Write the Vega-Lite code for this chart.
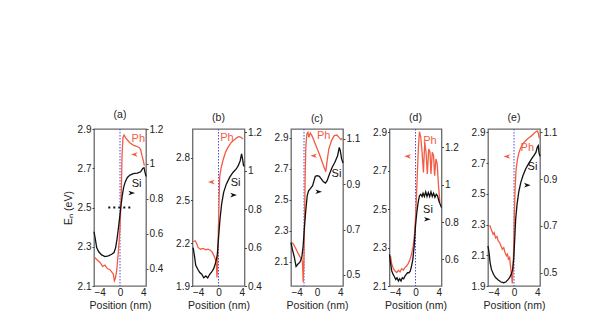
{
"$schema": "https://vega.github.io/schema/vega-lite/v6.json",
"padding": {"left": 62, "top": 108, "right": 0, "bottom": 0},
"spacing": 10.5,
"config": {
 "font": "Liberation Sans",
 "view": {"stroke": "#6a6a6a", "strokeWidth": 1.3},
 "axis": {"labelFontSize": 10, "titleFontSize": 10.5, "titleFontWeight": "normal", "grid": false, "domain": false, "tickSize": 2, "tickColor": "#444", "labelColor": "#222", "titleColor": "#222", "labelPadding": 1, "format": "~g"},
 "axisX": {"labelPadding": 1, "tickSize": 0, "titlePadding": 3},
 "title": {"fontSize": 10.5, "fontWeight": "normal", "offset": 0, "baseline": "alphabetic", "color": "#222"}
},
"datasets": {
 "vlines": [{"p":"a","x":0},{"p":"b","x":0},{"p":"c","x":-2},{"p":"d","x":0},{"p":"e","x":0}],
 "hdots": [{"p":"a","x":-1.8,"x2":2.05,"v":2.5}],
 "labels": [
  {"p":"a","s":"ph","x":2.82,"v":2.85,"t":"Ph"},{"p":"a","s":"si","x":2.56,"v":0.884,"t":"Si"},
  {"p":"b","s":"ph","x":1.3,"v":2.939,"t":"Ph"},{"p":"b","s":"si","x":2.63,"v":0.934,"t":"Si"},
  {"p":"c","s":"ph","x":1.04,"v":2.911,"t":"Ph"},{"p":"c","s":"si","x":3.0,"v":0.945,"t":"Si"},
  {"p":"d","s":"ph","x":2.23,"v":2.857,"t":"Ph"},{"p":"d","s":"si","x":1.92,"v":0.865,"t":"Si"},
  {"p":"e","s":"ph","x":2.05,"v":2.796,"t":"Ph"},{"p":"e","s":"si","x":2.84,"v":0.95,"t":"Si"}
 ],
 "arrows": [
  {"p":"a","s":"ph","x":2.2,"v":2.77},{"p":"a","s":"si","x":1.8,"v":0.833},
  {"p":"b","s":"ph","x":-1.1,"v":2.628},{"p":"b","s":"si","x":2.32,"v":0.873},
  {"p":"c","s":"ph","x":-0.52,"v":2.785},{"p":"c","s":"si","x":0.26,"v":0.867},
  {"p":"d","s":"ph","x":-1.22,"v":2.775},{"p":"d","s":"si","x":1.82,"v":0.815},
  {"p":"e","s":"ph","x":-1.1,"v":2.743},{"p":"e","s":"si","x":2.05,"v":0.874}
 ],
 "a_ph": [{"x":-3.9,"v":2.245},{"x":-3.08,"v":2.22},{"x":-2.67,"v":2.2},{"x":-2.31,"v":2.206},{"x":-1.95,"v":2.189},{"x":-1.54,"v":2.183},{"x":-1.23,"v":2.169},{"x":-1.03,"v":2.161},{"x":-0.87,"v":2.126},{"x":-0.72,"v":2.138},{"x":-0.51,"v":2.178},{"x":-0.26,"v":2.271},{"x":0,"v":2.39},{"x":0.21,"v":2.594},{"x":0.31,"v":2.764},{"x":0.46,"v":2.857},{"x":0.62,"v":2.869},{"x":0.82,"v":2.857},{"x":1.13,"v":2.844},{"x":1.54,"v":2.829},{"x":2.05,"v":2.818},{"x":2.56,"v":2.812},{"x":2.97,"v":2.805},{"x":3.18,"v":2.795},{"x":3.38,"v":2.764},{"x":3.59,"v":2.739},{"x":3.74,"v":2.713}],
 "a_si": [{"x":-4.0,"v":0.611},{"x":-3.79,"v":0.568},{"x":-3.59,"v":0.52},{"x":-3.28,"v":0.496},{"x":-2.82,"v":0.478},{"x":-2.31,"v":0.469},{"x":-1.79,"v":0.473},{"x":-1.28,"v":0.482},{"x":-0.92,"v":0.492},{"x":-0.67,"v":0.52},{"x":-0.46,"v":0.568},{"x":-0.26,"v":0.626},{"x":-0.05,"v":0.693},{"x":0.15,"v":0.76},{"x":0.36,"v":0.821},{"x":0.56,"v":0.865},{"x":0.82,"v":0.898},{"x":1.13,"v":0.922},{"x":1.54,"v":0.936},{"x":2.05,"v":0.944},{"x":2.67,"v":0.947},{"x":3.18,"v":0.955},{"x":3.49,"v":0.974},{"x":3.69,"v":0.978},{"x":3.85,"v":0.951},{"x":4.0,"v":0.928}],
 "b_ph": [{"x":-3.9,"v":2.21},{"x":-3.6,"v":2.217},{"x":-3.39,"v":2.201},{"x":-3.14,"v":2.17},{"x":-2.78,"v":2.158},{"x":-2.37,"v":2.163},{"x":-1.96,"v":2.154},{"x":-1.61,"v":2.158},{"x":-1.25,"v":2.151},{"x":-0.94,"v":2.135},{"x":-0.69,"v":2.111},{"x":-0.48,"v":2.088},{"x":-0.33,"v":2.046},{"x":-0.23,"v":1.959},{"x":-0.13,"v":2.064},{"x":-0.03,"v":2.276},{"x":0.08,"v":2.487},{"x":0.18,"v":2.664},{"x":0.38,"v":2.722},{"x":0.69,"v":2.781},{"x":1.1,"v":2.84},{"x":1.5,"v":2.875},{"x":1.96,"v":2.906},{"x":2.47,"v":2.927},{"x":2.93,"v":2.943},{"x":3.24,"v":2.946},{"x":3.55,"v":2.939},{"x":3.75,"v":2.929}],
 "b_si": [{"x":-3.9,"v":0.6},{"x":-3.7,"v":0.557},{"x":-3.5,"v":0.508},{"x":-3.19,"v":0.487},{"x":-2.88,"v":0.47},{"x":-2.58,"v":0.461},{"x":-2.27,"v":0.443},{"x":-1.96,"v":0.452},{"x":-1.66,"v":0.442},{"x":-1.35,"v":0.461},{"x":-1.05,"v":0.473},{"x":-0.74,"v":0.49},{"x":-0.43,"v":0.522},{"x":-0.18,"v":0.565},{"x":0.03,"v":0.661},{"x":0.23,"v":0.748},{"x":0.48,"v":0.826},{"x":0.79,"v":0.887},{"x":1.2,"v":0.93},{"x":1.71,"v":0.965},{"x":2.22,"v":0.991},{"x":2.73,"v":1.009},{"x":3.04,"v":1.026},{"x":3.34,"v":1.052},{"x":3.55,"v":1.087},{"x":3.7,"v":1.061},{"x":3.85,"v":1.026},{"x":4.0,"v":1.023}],
 "c_ph": [{"x":-3.79,"v":2.223},{"x":-3.48,"v":2.202},{"x":-3.17,"v":2.176},{"x":-2.86,"v":2.148},{"x":-2.55,"v":2.126},{"x":-2.34,"v":2.119},{"x":-2.23,"v":2.093},{"x":-2.13,"v":1.968},{"x":-2.03,"v":2.072},{"x":-1.92,"v":2.331},{"x":-1.82,"v":2.656},{"x":-1.71,"v":2.85},{"x":-1.56,"v":2.926},{"x":-1.4,"v":2.937},{"x":-1.25,"v":2.904},{"x":-1.04,"v":2.932},{"x":-0.78,"v":2.915},{"x":-0.47,"v":2.883},{"x":-0.05,"v":2.839},{"x":0.36,"v":2.796},{"x":0.78,"v":2.746},{"x":1.09,"v":2.71},{"x":1.35,"v":2.682},{"x":1.56,"v":2.753},{"x":1.82,"v":2.829},{"x":2.23,"v":2.883},{"x":2.65,"v":2.915},{"x":3.06,"v":2.919},{"x":3.38,"v":2.904},{"x":3.69,"v":2.889},{"x":3.9,"v":2.898}],
 "c_si": [{"x":-4.0,"v":0.643},{"x":-3.79,"v":0.613},{"x":-3.48,"v":0.577},{"x":-3.22,"v":0.537},{"x":-2.96,"v":0.547},{"x":-2.65,"v":0.555},{"x":-2.34,"v":0.577},{"x":-2.13,"v":0.628},{"x":-1.92,"v":0.717},{"x":-1.71,"v":0.79},{"x":-1.51,"v":0.849},{"x":-1.3,"v":0.871},{"x":-0.99,"v":0.882},{"x":-0.68,"v":0.894},{"x":-0.26,"v":0.935},{"x":0.05,"v":0.938},{"x":0.36,"v":0.935},{"x":0.68,"v":0.923},{"x":0.99,"v":0.911},{"x":1.3,"v":0.905},{"x":1.56,"v":0.916},{"x":1.92,"v":0.945},{"x":2.34,"v":0.975},{"x":2.75,"v":0.997},{"x":3.17,"v":1.026},{"x":3.43,"v":1.063},{"x":3.58,"v":1.048},{"x":3.79,"v":1.012},{"x":4.0,"v":0.994}],
 "d_ph": [{"x":-3.85,"v":2.257},{"x":-3.65,"v":2.213},{"x":-3.39,"v":2.19},{"x":-3.14,"v":2.178},{"x":-2.89,"v":2.17},{"x":-2.63,"v":2.182},{"x":-2.38,"v":2.173},{"x":-2.13,"v":2.19},{"x":-1.87,"v":2.183},{"x":-1.62,"v":2.196},{"x":-1.37,"v":2.204},{"x":-1.11,"v":2.218},{"x":-0.86,"v":2.236},{"x":-0.61,"v":2.265},{"x":-0.35,"v":2.309},{"x":-0.15,"v":2.37},{"x":0.05,"v":2.483},{"x":0.25,"v":2.657},{"x":0.46,"v":2.83},{"x":0.61,"v":2.903},{"x":0.81,"v":2.874},{"x":1.01,"v":2.796},{"x":1.22,"v":2.691},{"x":1.42,"v":2.848},{"x":1.62,"v":2.796},{"x":1.82,"v":2.683},{"x":2.03,"v":2.813},{"x":2.23,"v":2.796},{"x":2.38,"v":2.683},{"x":2.58,"v":2.796},{"x":2.78,"v":2.778},{"x":2.94,"v":2.674},{"x":3.14,"v":2.761},{"x":3.34,"v":2.735},{"x":3.54,"v":2.622},{"x":3.75,"v":2.535}],
 "d_si": [{"x":-4.0,"v":0.627},{"x":-3.85,"v":0.582},{"x":-3.65,"v":0.537},{"x":-3.44,"v":0.519},{"x":-3.24,"v":0.507},{"x":-3.04,"v":0.492},{"x":-2.84,"v":0.501},{"x":-2.63,"v":0.484},{"x":-2.43,"v":0.496},{"x":-2.23,"v":0.484},{"x":-2.03,"v":0.501},{"x":-1.82,"v":0.496},{"x":-1.62,"v":0.51},{"x":-1.42,"v":0.519},{"x":-1.22,"v":0.528},{"x":-1.01,"v":0.528},{"x":-0.81,"v":0.537},{"x":-0.61,"v":0.564},{"x":-0.41,"v":0.6},{"x":-0.2,"v":0.672},{"x":0,"v":0.779},{"x":0.2,"v":0.851},{"x":0.41,"v":0.905},{"x":0.61,"v":0.941},{"x":0.81,"v":0.949},{"x":1.01,"v":0.937},{"x":1.16,"v":0.955},{"x":1.37,"v":0.937},{"x":1.57,"v":0.962},{"x":1.77,"v":0.937},{"x":1.97,"v":0.958},{"x":2.18,"v":0.937},{"x":2.38,"v":0.962},{"x":2.58,"v":0.937},{"x":2.78,"v":0.955},{"x":2.99,"v":0.932},{"x":3.19,"v":0.949},{"x":3.39,"v":0.941},{"x":3.59,"v":0.914},{"x":3.8,"v":0.896},{"x":4.0,"v":0.878}],
 "e_ph": [{"x":-3.74,"v":2.296},{"x":-3.47,"v":2.265},{"x":-3.21,"v":2.237},{"x":-3.05,"v":2.248},{"x":-2.84,"v":2.213},{"x":-2.63,"v":2.222},{"x":-2.42,"v":2.193},{"x":-2.21,"v":2.183},{"x":-2.0,"v":2.161},{"x":-1.79,"v":2.139},{"x":-1.58,"v":2.15},{"x":-1.37,"v":2.117},{"x":-1.16,"v":2.096},{"x":-1.0,"v":2.107},{"x":-0.84,"v":2.07},{"x":-0.68,"v":2.091},{"x":-0.53,"v":2.026},{"x":-0.37,"v":1.965},{"x":-0.26,"v":1.917},{"x":-0.16,"v":1.987},{"x":-0.05,"v":2.139},{"x":0.05,"v":2.357},{"x":0.16,"v":2.53},{"x":0.32,"v":2.657},{"x":0.53,"v":2.722},{"x":0.74,"v":2.765},{"x":1.0,"v":2.796},{"x":1.26,"v":2.817},{"x":1.53,"v":2.835},{"x":1.79,"v":2.846},{"x":2.05,"v":2.857},{"x":2.32,"v":2.865},{"x":2.58,"v":2.874},{"x":2.84,"v":2.883},{"x":3.11,"v":2.896},{"x":3.37,"v":2.904},{"x":3.58,"v":2.909},{"x":3.74,"v":2.896},{"x":3.89,"v":2.861}],
 "e_si": [{"x":-4.0,"v":0.614},{"x":-3.84,"v":0.586},{"x":-3.68,"v":0.543},{"x":-3.47,"v":0.514},{"x":-3.16,"v":0.493},{"x":-2.84,"v":0.479},{"x":-2.42,"v":0.469},{"x":-2.0,"v":0.46},{"x":-1.58,"v":0.457},{"x":-1.26,"v":0.46},{"x":-0.95,"v":0.469},{"x":-0.68,"v":0.479},{"x":-0.42,"v":0.493},{"x":-0.21,"v":0.514},{"x":-0.05,"v":0.557},{"x":0.11,"v":0.643},{"x":0.26,"v":0.729},{"x":0.47,"v":0.793},{"x":0.74,"v":0.846},{"x":1.05,"v":0.886},{"x":1.37,"v":0.914},{"x":1.79,"v":0.943},{"x":2.21,"v":0.964},{"x":2.63,"v":0.983},{"x":3.05,"v":1.0},{"x":3.37,"v":1.014},{"x":3.58,"v":1.036},{"x":3.74,"v":1.043},{"x":3.84,"v":1.014},{"x":4.0,"v":0.997}]
},
"hconcat": [
 {
  "title": "(a)", "width": 52, "height": 157,
  "encoding": {"x": {"field": "x", "type": "quantitative", "scale": {"domain": [-4, 4], "nice": false, "zero": false}, "axis": {"values": [-4, 0, 4], "title": "Position (nm)"}}},
  "layer": [
   {"data": {"name": "vlines"}, "transform": [{"filter": "datum.p == 'a'"}], "mark": {"type": "rule", "color": "#4b4bdb", "strokeDash": [1.5, 1.5], "strokeWidth": 1}},
   {"encoding": {"y": {"field": "v", "type": "quantitative", "scale": {"domain": [2.1, 2.9], "nice": false, "zero": false}, "axis": {"values": [2.1, 2.3, 2.5, 2.7, 2.9], "title": "Eₙ (eV)", "titlePadding": 4}}},
    "layer": [
     {"data": {"name": "hdots"}, "transform": [{"filter": "datum.p == 'a'"}], "mark": {"type": "rule", "color": "#111", "strokeDash": [2, 3], "strokeWidth": 1.8}, "encoding": {"x2": {"field": "x2"}}},
     {"data": {"name": "a_ph"}, "mark": {"type": "line", "color": "#f25c44", "strokeWidth": 1.3}},
     {"data": {"name": "labels"}, "transform": [{"filter": "datum.p == 'a' && datum.s == 'ph'"}], "mark": {"type": "text", "color": "#f25c44", "fontSize": 11}, "encoding": {"text": {"field": "t"}}},
     {"data": {"name": "arrows"}, "transform": [{"filter": "datum.p == 'a' && datum.s == 'ph'"}], "mark": {"type": "point", "shape": "M 1 -0.7 L -1 0 L 1 0.7 L 0.45 0 Z", "filled": true, "opacity": 1, "color": "#f25c44", "size": 45}}
    ]},
   {"encoding": {"y": {"field": "v", "type": "quantitative", "scale": {"domain": [0.3, 1.2], "nice": false, "zero": false}, "axis": {"orient": "right", "values": [0.4, 0.6, 0.8, 1, 1.2], "title": null}}},
    "layer": [
     {"data": {"name": "a_si"}, "mark": {"type": "line", "color": "#111", "strokeWidth": 1.3}},
     {"data": {"name": "labels"}, "transform": [{"filter": "datum.p == 'a' && datum.s == 'si'"}], "mark": {"type": "text", "color": "#111", "fontSize": 11}, "encoding": {"text": {"field": "t"}}},
     {"data": {"name": "arrows"}, "transform": [{"filter": "datum.p == 'a' && datum.s == 'si'"}], "mark": {"type": "point", "shape": "M -1 -0.7 L 1 0 L -1 0.7 L -0.45 0 Z", "filled": true, "opacity": 1, "color": "#111", "size": 45}}
    ]}
  ],
  "resolve": {"scale": {"y": "independent"}}
 },
 {
  "title": "(b)", "width": 52, "height": 157,
  "encoding": {"x": {"field": "x", "type": "quantitative", "scale": {"domain": [-4, 4], "nice": false, "zero": false}, "axis": {"values": [-4, 0, 4], "title": "Position (nm)"}}},
  "layer": [
   {"data": {"name": "vlines"}, "transform": [{"filter": "datum.p == 'b'"}], "mark": {"type": "rule", "color": "#4b4bdb", "strokeDash": [1.5, 1.5], "strokeWidth": 1}},
   {"encoding": {"y": {"field": "v", "type": "quantitative", "scale": {"domain": [1.9, 3.0], "nice": false, "zero": false}, "axis": {"values": [1.9, 2.2, 2.5, 2.8], "title": null}}},
    "layer": [
     {"data": {"name": "b_ph"}, "mark": {"type": "line", "color": "#f25c44", "strokeWidth": 1.3}},
     {"data": {"name": "labels"}, "transform": [{"filter": "datum.p == 'b' && datum.s == 'ph'"}], "mark": {"type": "text", "color": "#f25c44", "fontSize": 11}, "encoding": {"text": {"field": "t"}}},
     {"data": {"name": "arrows"}, "transform": [{"filter": "datum.p == 'b' && datum.s == 'ph'"}], "mark": {"type": "point", "shape": "M 1 -0.7 L -1 0 L 1 0.7 L 0.45 0 Z", "filled": true, "opacity": 1, "color": "#f25c44", "size": 45}}
    ]},
   {"encoding": {"y": {"field": "v", "type": "quantitative", "scale": {"domain": [0.4, 1.217], "nice": false, "zero": false}, "axis": {"orient": "right", "values": [0.4, 0.6, 0.8, 1, 1.2], "title": null}}},
    "layer": [
     {"data": {"name": "b_si"}, "mark": {"type": "line", "color": "#111", "strokeWidth": 1.3}},
     {"data": {"name": "labels"}, "transform": [{"filter": "datum.p == 'b' && datum.s == 'si'"}], "mark": {"type": "text", "color": "#111", "fontSize": 11}, "encoding": {"text": {"field": "t"}}},
     {"data": {"name": "arrows"}, "transform": [{"filter": "datum.p == 'b' && datum.s == 'si'"}], "mark": {"type": "point", "shape": "M -1 -0.7 L 1 0 L -1 0.7 L -0.45 0 Z", "filled": true, "opacity": 1, "color": "#111", "size": 45}}
    ]}
  ],
  "resolve": {"scale": {"y": "independent"}}
 },
 {
  "title": "(c)", "width": 52, "height": 157,
  "encoding": {"x": {"field": "x", "type": "quantitative", "scale": {"domain": [-4, 4], "nice": false, "zero": false}, "axis": {"values": [-4, 0, 4], "title": "Position (nm)"}}},
  "layer": [
   {"data": {"name": "vlines"}, "transform": [{"filter": "datum.p == 'c'"}], "mark": {"type": "rule", "color": "#4b4bdb", "strokeDash": [1.5, 1.5], "strokeWidth": 1}},
   {"encoding": {"y": {"field": "v", "type": "quantitative", "scale": {"domain": [1.942, 2.958], "nice": false, "zero": false}, "axis": {"values": [2.1, 2.3, 2.5, 2.7, 2.9], "title": null}}},
    "layer": [
     {"data": {"name": "c_ph"}, "mark": {"type": "line", "color": "#f25c44", "strokeWidth": 1.3}},
     {"data": {"name": "labels"}, "transform": [{"filter": "datum.p == 'c' && datum.s == 'ph'"}], "mark": {"type": "text", "color": "#f25c44", "fontSize": 11}, "encoding": {"text": {"field": "t"}}},
     {"data": {"name": "arrows"}, "transform": [{"filter": "datum.p == 'c' && datum.s == 'ph'"}], "mark": {"type": "point", "shape": "M 1 -0.7 L -1 0 L 1 0.7 L 0.45 0 Z", "filled": true, "opacity": 1, "color": "#f25c44", "size": 45}}
    ]},
   {"encoding": {"y": {"field": "v", "type": "quantitative", "scale": {"domain": [0.451, 1.144], "nice": false, "zero": false}, "axis": {"orient": "right", "values": [0.5, 0.7, 0.9, 1.1], "format": ".1f", "title": null}}},
    "layer": [
     {"data": {"name": "c_si"}, "mark": {"type": "line", "color": "#111", "strokeWidth": 1.3}},
     {"data": {"name": "labels"}, "transform": [{"filter": "datum.p == 'c' && datum.s == 'si'"}], "mark": {"type": "text", "color": "#111", "fontSize": 11}, "encoding": {"text": {"field": "t"}}},
     {"data": {"name": "arrows"}, "transform": [{"filter": "datum.p == 'c' && datum.s == 'si'"}], "mark": {"type": "point", "shape": "M -1 -0.7 L 1 0 L -1 0.7 L -0.45 0 Z", "filled": true, "opacity": 1, "color": "#111", "size": 45}}
    ]}
  ],
  "resolve": {"scale": {"y": "independent"}}
 },
 {
  "title": "(d)", "width": 52, "height": 157,
  "encoding": {"x": {"field": "x", "type": "quantitative", "scale": {"domain": [-4, 4], "nice": false, "zero": false}, "axis": {"values": [-4, 0, 4], "title": "Position (nm)"}}},
  "layer": [
   {"data": {"name": "vlines"}, "transform": [{"filter": "datum.p == 'd'"}], "mark": {"type": "rule", "color": "#4b4bdb", "strokeDash": [1.5, 1.5], "strokeWidth": 1}},
   {"encoding": {"y": {"field": "v", "type": "quantitative", "scale": {"domain": [2.1, 2.917], "nice": false, "zero": false}, "axis": {"values": [2.1, 2.3, 2.5, 2.7, 2.9], "title": null}}},
    "layer": [
     {"data": {"name": "d_ph"}, "mark": {"type": "line", "color": "#f25c44", "strokeWidth": 1.3}},
     {"data": {"name": "labels"}, "transform": [{"filter": "datum.p == 'd' && datum.s == 'ph'"}], "mark": {"type": "text", "color": "#f25c44", "fontSize": 11}, "encoding": {"text": {"field": "t"}}},
     {"data": {"name": "arrows"}, "transform": [{"filter": "datum.p == 'd' && datum.s == 'ph'"}], "mark": {"type": "point", "shape": "M 1 -0.7 L -1 0 L 1 0.7 L 0.45 0 Z", "filled": true, "opacity": 1, "color": "#f25c44", "size": 45}}
    ]},
   {"encoding": {"y": {"field": "v", "type": "quantitative", "scale": {"domain": [0.457, 1.299], "nice": false, "zero": false}, "axis": {"orient": "right", "values": [0.6, 0.8, 1, 1.2], "title": null}}},
    "layer": [
     {"data": {"name": "d_si"}, "mark": {"type": "line", "color": "#111", "strokeWidth": 1.3}},
     {"data": {"name": "labels"}, "transform": [{"filter": "datum.p == 'd' && datum.s == 'si'"}], "mark": {"type": "text", "color": "#111", "fontSize": 11}, "encoding": {"text": {"field": "t"}}},
     {"data": {"name": "arrows"}, "transform": [{"filter": "datum.p == 'd' && datum.s == 'si'"}], "mark": {"type": "point", "shape": "M -1 -0.7 L 1 0 L -1 0.7 L -0.45 0 Z", "filled": true, "opacity": 1, "color": "#111", "size": 45}}
    ]}
  ],
  "resolve": {"scale": {"y": "independent"}}
 },
 {
  "title": "(e)", "width": 52, "height": 157,
  "encoding": {"x": {"field": "x", "type": "quantitative", "scale": {"domain": [-4, 4], "nice": false, "zero": false}, "axis": {"values": [-4, 0, 4], "title": "Position (nm)"}}},
  "layer": [
   {"data": {"name": "vlines"}, "transform": [{"filter": "datum.p == 'e'"}], "mark": {"type": "rule", "color": "#4b4bdb", "strokeDash": [1.5, 1.5], "strokeWidth": 1}},
   {"encoding": {"y": {"field": "v", "type": "quantitative", "scale": {"domain": [1.9, 2.922], "nice": false, "zero": false}, "axis": {"values": [1.9, 2.1, 2.3, 2.5, 2.7, 2.9], "title": null}}},
    "layer": [
     {"data": {"name": "e_ph"}, "mark": {"type": "line", "color": "#f25c44", "strokeWidth": 1.3}},
     {"data": {"name": "labels"}, "transform": [{"filter": "datum.p == 'e' && datum.s == 'ph'"}], "mark": {"type": "text", "color": "#f25c44", "fontSize": 11}, "encoding": {"text": {"field": "t"}}},
     {"data": {"name": "arrows"}, "transform": [{"filter": "datum.p == 'e' && datum.s == 'ph'"}], "mark": {"type": "point", "shape": "M 1 -0.7 L -1 0 L 1 0.7 L 0.45 0 Z", "filled": true, "opacity": 1, "color": "#f25c44", "size": 45}}
    ]},
   {"encoding": {"y": {"field": "v", "type": "quantitative", "scale": {"domain": [0.443, 1.114], "nice": false, "zero": false}, "axis": {"orient": "right", "values": [0.5, 0.7, 0.9, 1.1], "format": ".1f", "title": null}}},
    "layer": [
     {"data": {"name": "e_si"}, "mark": {"type": "line", "color": "#111", "strokeWidth": 1.3}},
     {"data": {"name": "labels"}, "transform": [{"filter": "datum.p == 'e' && datum.s == 'si'"}], "mark": {"type": "text", "color": "#111", "fontSize": 11}, "encoding": {"text": {"field": "t"}}},
     {"data": {"name": "arrows"}, "transform": [{"filter": "datum.p == 'e' && datum.s == 'si'"}], "mark": {"type": "point", "shape": "M -1 -0.7 L 1 0 L -1 0.7 L -0.45 0 Z", "filled": true, "opacity": 1, "color": "#111", "size": 45}}
    ]}
  ],
  "resolve": {"scale": {"y": "independent"}}
 }
]
}
